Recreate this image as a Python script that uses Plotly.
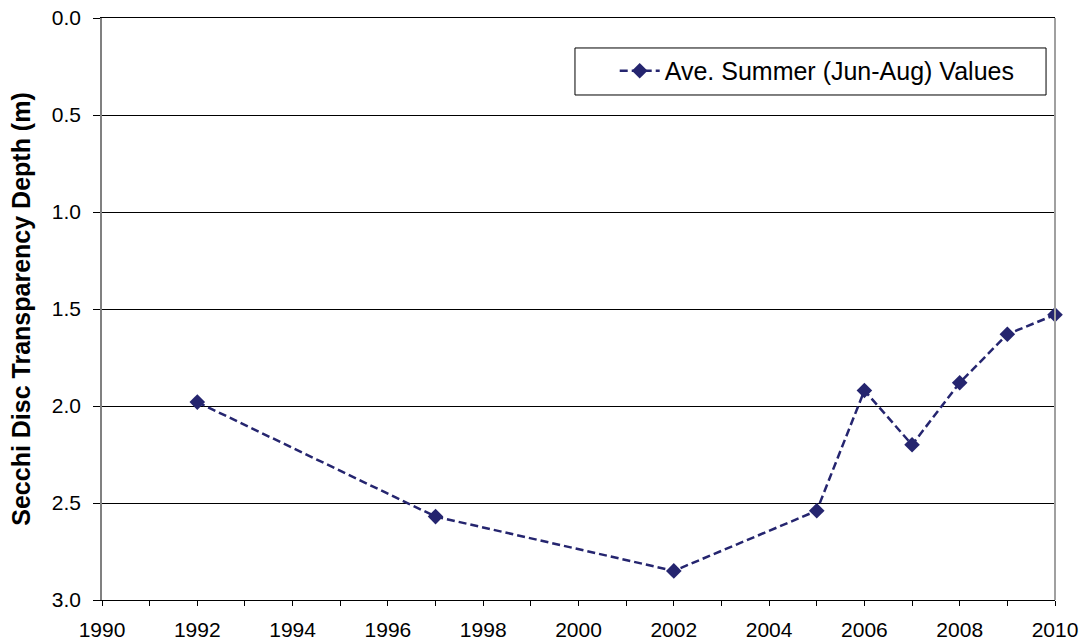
import plotly.graph_objects as go

years = [1992, 1997, 2002, 2005, 2006, 2007, 2008, 2009, 2010]
secchi_depth = [1.98, 2.57, 2.85, 2.54, 1.92, 2.20, 1.88, 1.63, 1.53]
series_name = "Ave. Summer (Jun-Aug) Values"
y_title = "Secchi Disc Transparency Depth (m)"
x_ticks = list(range(1990, 2011, 2))
y_ticks = [0.0, 0.5, 1.0, 1.5, 2.0, 2.5, 3.0]

color = "#25256f"
font_family = "Liberation Sans, Arial, sans-serif"

fig = go.Figure()
fig.add_trace(go.Scatter(
    x=years, y=secchi_depth, name=series_name, mode="lines+markers",
    line=dict(color=color, width=2.5, dash="8px,4px"),
    marker=dict(symbol="diamond", size=12, color=color),
    showlegend=True, cliponaxis=False,
))

fig.update_layout(
    width=1083, height=642,
    margin=dict(l=102, r=28, t=18, b=42, autoexpand=False),
    paper_bgcolor="white", plot_bgcolor="white",
    font=dict(family=font_family, size=21, color="black"),
    legend=dict(
        x=0.538, y=0.9485, xanchor="left", yanchor="top",
        borderwidth=0, bgcolor="rgba(0,0,0,0)",
        font=dict(size=25, family=font_family),
        itemwidth=40,
    ),
)
fig.update_xaxes(
    range=[1990, 2010], tickvals=x_ticks, ticktext=[str(v) for v in x_ticks],
    showgrid=False, showline=True, linecolor="black", linewidth=1, mirror=True,
    ticks="outside", ticklen=5, tickcolor="black",
    minor=dict(dtick=1, tick0=1990, ticks="outside", ticklen=5, tickcolor="black", showgrid=False),
    zeroline=False, tickfont=dict(size=21), automargin=False, ticklabelstandoff=6,
)
fig.update_yaxes(
    range=[3.0, 0.0], tickvals=y_ticks, ticktext=[f"{v:.1f}" for v in y_ticks],
    showgrid=True, gridcolor="black", gridwidth=1,
    showline=True, linecolor="#808080", linewidth=1.5,
    ticks="outside", ticklen=7, tickcolor="black",
    zeroline=False, tickfont=dict(size=21), ticklabelstandoff=8,
    title=dict(text=f"<b>{y_title}</b>", font=dict(size=25), standoff=14),
    automargin=False,
)
# right border
fig.add_shape(type="line", xref="paper", yref="paper", x0=1, x1=1, y0=0, y1=1,
              line=dict(color="#a0a0a0", width=2))
# legend frame
fig.add_shape(type="rect", xref="paper", yref="paper",
              x0=0.4963, x1=0.9906, y0=0.8677, y1=0.9485,
              line=dict(color="black", width=1), fillcolor="rgba(0,0,0,0)", layer="above")

fig.write_html("out.html", config={"displayModeBar": False},
               post_script="document.body.style.margin='0';")
